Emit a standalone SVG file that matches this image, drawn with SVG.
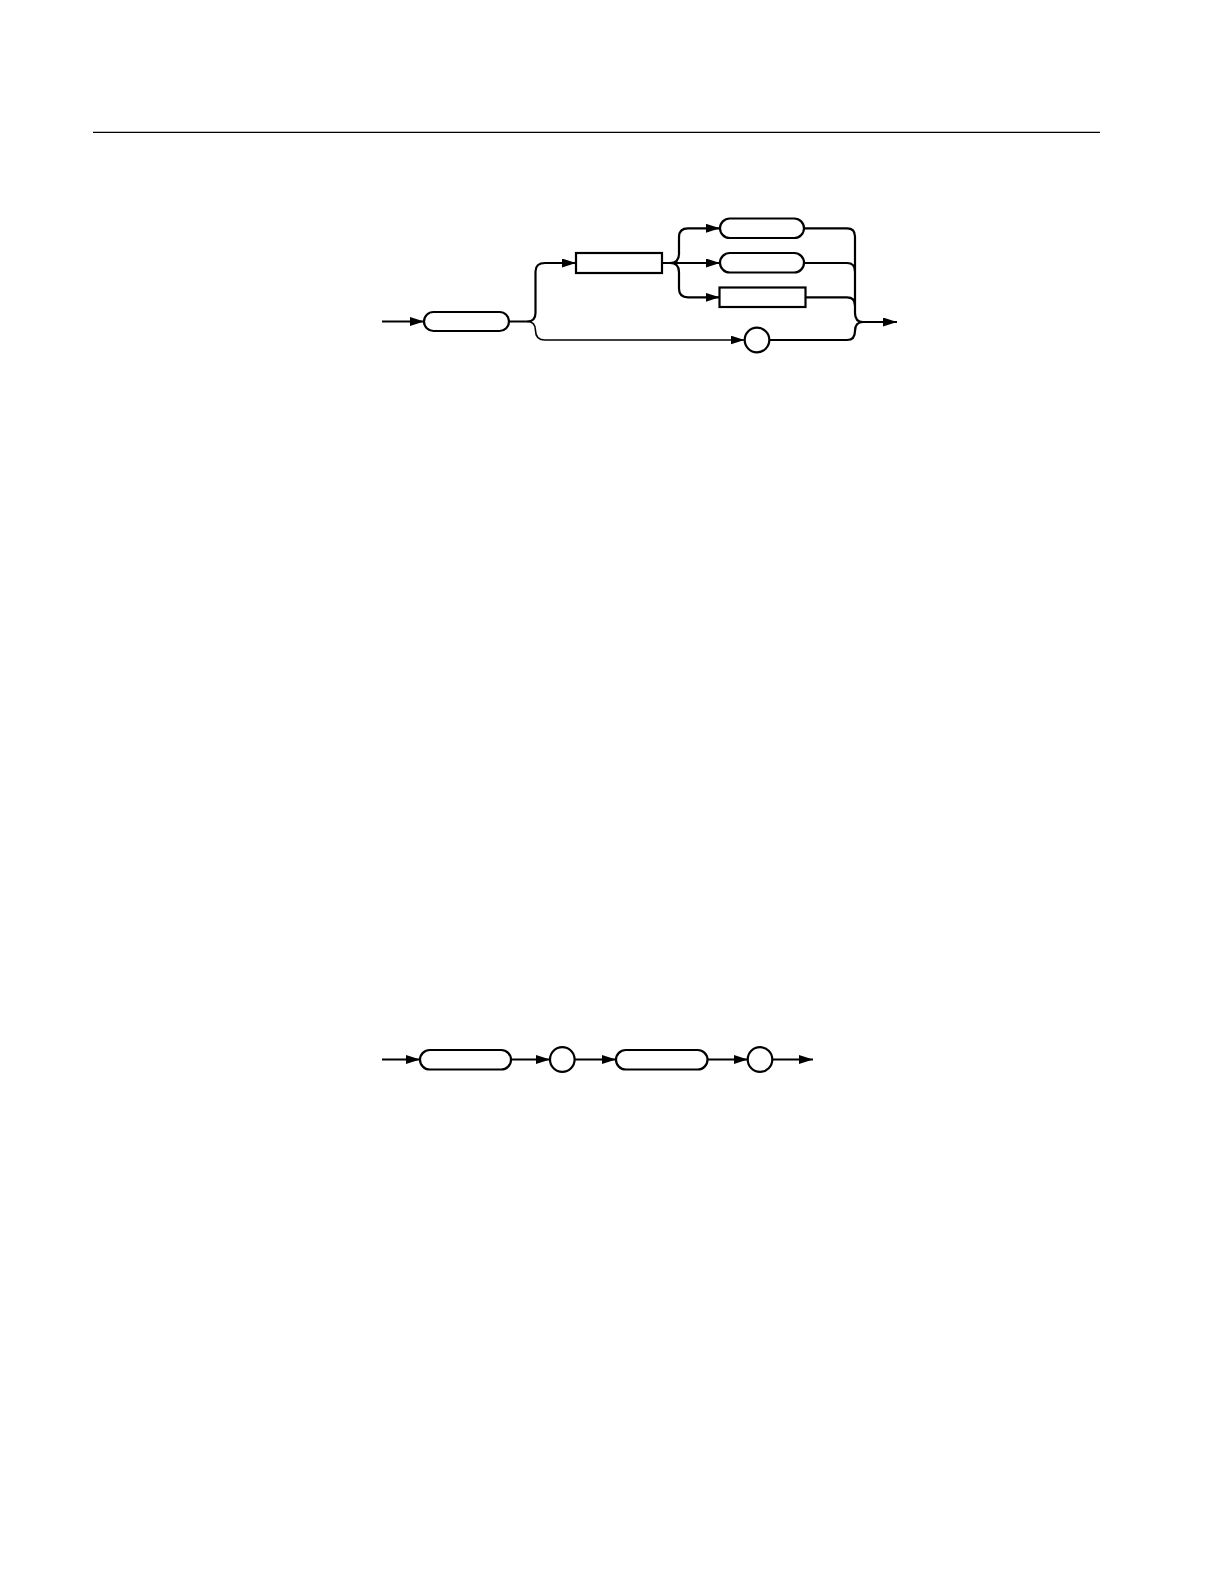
<svg xmlns="http://www.w3.org/2000/svg" width="1224" height="1584" viewBox="0 0 1224 1584">
<style>
.n{fill:#fff;stroke:#000;stroke-width:2.2}
.c{fill:none;stroke:#000;stroke-width:2.2}
.t{fill:none;stroke:#000;stroke-width:1.6}
</style>
<defs>
<marker id="a" viewBox="0 0 14 9" refX="14" refY="4.5" markerWidth="14" markerHeight="9" markerUnits="userSpaceOnUse" orient="auto">
<path d="M0,0 L14,4.5 L0,9 z" fill="#000"/>
</marker>
</defs>
<rect width="1224" height="1584" fill="#fff"/>
<line x1="93" y1="132.3" x2="1100" y2="132.3" stroke="#000" stroke-width="1.3"/>
<g id="connectors">
<path class="c" d="M382,321.5 H424" marker-end="url(#a)"/>
<path class="c" d="M509,321.5 H527 Q535.5,321.5 535.5,313 V271.5 Q535.5,263 545,263 H576" marker-end="url(#a)"/>
<path class="t" d="M527,321.5 Q535.5,321.5 535.5,330.5 Q535.5,340 545,340 H744.5" marker-end="url(#a)"/>
<path class="c" d="M662,263 H670 Q679,263 679,254 V237 Q679,228.3 688,228.3 H720" marker-end="url(#a)"/>
<path class="c" d="M670,263 H720" marker-end="url(#a)"/>
<path class="c" d="M670,263 Q679,263 679,272 V288.5 Q679,297.3 688,297.3 H719.5" marker-end="url(#a)"/>
<path class="c" d="M804,228.3 H847 Q855,228.3 855,236.5 V313 Q855,322 863,322 H897" marker-end="url(#a)"/>
<path class="c" d="M804,263 H847 Q855,263 855,271.5"/>
<path class="c" d="M805.5,297.3 H847 Q855,297.3 855,305.5"/>
<path class="c" d="M769.3,340 H847 Q855,340 855,331 Q855,322 863,322"/>
<path class="c" d="M382,1059.5 H420" marker-end="url(#a)"/>
<path class="c" d="M511,1059.5 H550" marker-end="url(#a)"/>
<path class="c" d="M574.6,1059.5 H616" marker-end="url(#a)"/>
<path class="c" d="M707.5,1059.5 H747.7" marker-end="url(#a)"/>
<path class="c" d="M772.3,1059.5 H813" marker-end="url(#a)"/>
</g>
<g id="n1"><rect class="n" x="424" y="312" width="85" height="19" rx="9.5"/></g>
<g id="n2"><rect class="n" x="576" y="253" width="86" height="20"/></g>
<g id="n3"><rect class="n" x="720" y="218.5" width="84" height="19.5" rx="9.75"/></g>
<g id="n4"><rect class="n" x="720" y="253" width="84" height="19.5" rx="9.75"/></g>
<g id="n5"><rect class="n" x="719.5" y="287.5" width="86" height="19.5"/></g>
<g id="n6"><circle class="n" cx="757" cy="340" r="12.3"/></g>
<g id="n7"><rect class="n" x="420" y="1050" width="91" height="19.5" rx="9.75"/></g>
<g id="n8"><circle class="n" cx="562.3" cy="1059.5" r="12.3"/></g>
<g id="n9"><rect class="n" x="616" y="1050" width="91.5" height="19.5" rx="9.75"/></g>
<g id="n10"><circle class="n" cx="760" cy="1059.5" r="12.3"/></g>
</svg>
